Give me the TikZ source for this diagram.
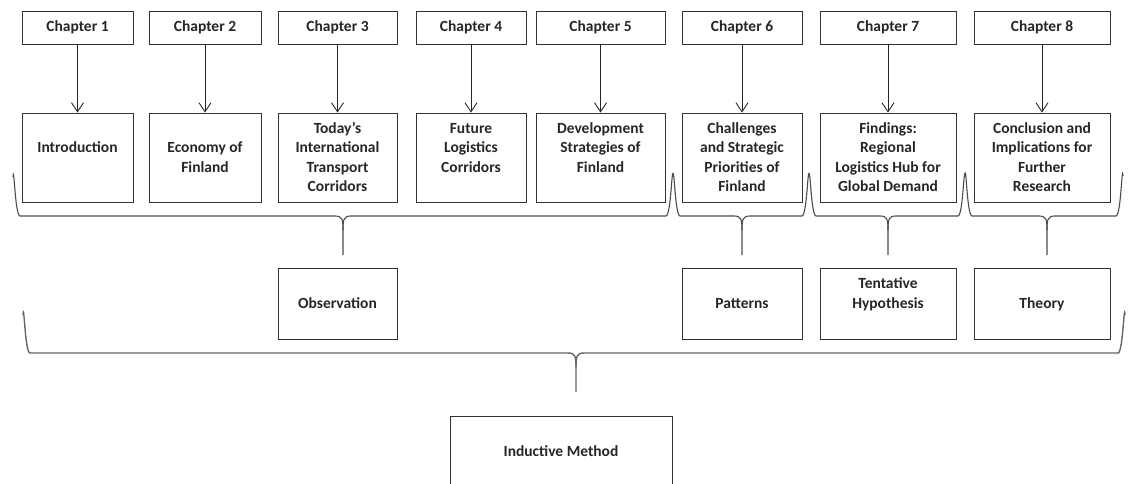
\documentclass[tikz,border=0pt]{standalone}
\usepackage{fontspec}
\setmainfont{Carlito}
\usetikzlibrary{arrows.meta}

% text set from the top of a box of fixed size
\newcommand{\boxlines}[3]{\parbox[c][#2][t]{#1}{\centering\rule{0pt}{20.5pt}#3}}
% word-style curly brace, opening downwards
\newcommand{\wordbrace}[7][]{%
	\draw[bracel,#1] (#2,#5) .. controls (#2+1,#5-15) and (#2+2,#6) .. (#2+7,#6)
		-- (#4-8,#6) .. controls (#4-1,#6) and (#4,#6+3) .. (#4,#6+14) -- (#4,#7);
	\draw[bracel,#1] (#3,#5) .. controls (#3-1,#5-15) and (#3-2,#6) .. (#3-7,#6)
		-- (#4+8,#6) .. controls (#4+1,#6) and (#4,#6+3) .. (#4,#6+14);}

\begin{document}
\begin{tikzpicture}[x=1pt,y=-1pt,
		font=\fontsize{15.5pt}{19.5pt}\selectfont\bfseries,
		tbox/.style={draw=black!80, line width=.9pt, inner sep=0pt, text=black!85},
		arr/.style={draw=black!85, line width=.9pt, -{Straight Barb[length=9pt,width=12pt]}},
		bracel/.style={draw=black!70, line width=1.1pt}]
	\useasboundingbox (0,0) rectangle (1128,484);

	% chapters
	\foreach \i/\x/\w in {1/77.5/111, 2/205/112, 3/337.5/119, 4/471/110,
			5/600.5/129, 6/742/120, 7/888/136, 8/1042/136}
		\node[tbox] (ch\i) at (\x,27.5) {\boxlines{\w pt}{33pt}{Chapter \i}};

	% contents
	\node[tbox] (ct1) at (77.5,157.5) {\boxlines{111pt}{89pt}{\\Introduction}};
	\node[tbox] (ct2) at (205,157.5) {\boxlines{112pt}{89pt}{\\Economy of\\Finland}};
	\node[tbox] (ct3) at (337.5,157.5) {\boxlines{119pt}{89pt}{Today’s\\International\\Transport\\Corridors}};
	\node[tbox] (ct4) at (471,157.5) {\boxlines{110pt}{89pt}{Future\\Logistics\\Corridors}};
	\node[tbox] (ct5) at (600.5,157.5) {\boxlines{129pt}{89pt}{Development\\Strategies of\\Finland}};
	\node[tbox] (ct6) at (742,157.5) {\boxlines{120pt}{89pt}{Challenges\\and Strategic\\Priorities of\\Finland}};
	\node[tbox] (ct7) at (888,157.5) {\boxlines{136pt}{89pt}{Findings:\\Regional\\Logistics Hub for\\Global Demand}};
	\node[tbox] (ct8) at (1042,157.5) {\boxlines{136pt}{89pt}{Conclusion and\\Implications for\\Further\\Research}};

	\foreach \i in {1,...,8}
		\draw[arr] (ch\i) -- (ct\i);

	% stages
	\node[tbox] (obs) at (337.5,303.5) {\boxlines{119pt}{71pt}{\\Observation}};
	\node[tbox] (pat) at (742,303.5) {\boxlines{120pt}{71pt}{\\Patterns}};
	\node[tbox] (hyp) at (888,303.5) {\boxlines{136pt}{71pt}{Tentative\\Hypothesis}};
	\node[tbox] (thy) at (1042,303.5) {\boxlines{136pt}{71pt}{\\Theory}};

	\node[tbox] (ind) at (561,461) {\boxlines{222pt}{90pt}{\\Inductive Method}};

	% braces
	\wordbrace{13}{673}{343}{177}{216}{255}
	\wordbrace{673}{809}{742}{177}{216}{255}
	\wordbrace{809}{965}{888}{177}{216}{255}
	\wordbrace{965}{1123}{1047}{176}{216}{255}
	\wordbrace[draw=black!60, line width=1.4pt]{23}{1125}{576}{315}{353}{392}
\end{tikzpicture}
\end{document}
